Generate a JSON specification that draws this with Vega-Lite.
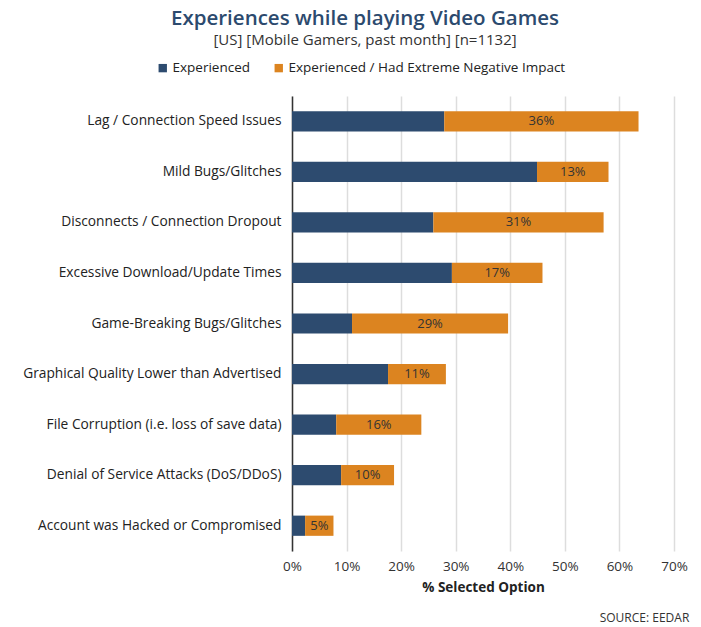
{
  "$schema": "https://vega.github.io/schema/vega-lite/v6.json",
  "background": "white",
  "padding": {"left": 22, "top": 8, "right": 10, "bottom": 2},
  "title": {"text": "SOURCE: EEDAR", "orient": "bottom", "anchor": "end", "fontSize": 12, "fontWeight": "normal", "color": "#333333", "font": "Open Sans", "offset": 19, "dx": 2},
  "config": {"view": {"stroke": null}, "font": "Open Sans"},
  "datasets": {
    "rows": [
      {"category": "Lag / Connection Speed Issues", "series": "Experienced", "value": 0.279},
      {"category": "Lag / Connection Speed Issues", "series": "Experienced / Had Extreme Negative Impact", "value": 0.356},
      {"category": "Mild Bugs/Glitches", "series": "Experienced", "value": 0.449},
      {"category": "Mild Bugs/Glitches", "series": "Experienced / Had Extreme Negative Impact", "value": 0.131},
      {"category": "Disconnects / Connection Dropout", "series": "Experienced", "value": 0.259},
      {"category": "Disconnects / Connection Dropout", "series": "Experienced / Had Extreme Negative Impact", "value": 0.312},
      {"category": "Excessive Download/Update Times", "series": "Experienced", "value": 0.293},
      {"category": "Excessive Download/Update Times", "series": "Experienced / Had Extreme Negative Impact", "value": 0.166},
      {"category": "Game-Breaking Bugs/Glitches", "series": "Experienced", "value": 0.110},
      {"category": "Game-Breaking Bugs/Glitches", "series": "Experienced / Had Extreme Negative Impact", "value": 0.286},
      {"category": "Graphical Quality Lower than Advertised", "series": "Experienced", "value": 0.176},
      {"category": "Graphical Quality Lower than Advertised", "series": "Experienced / Had Extreme Negative Impact", "value": 0.106},
      {"category": "File Corruption (i.e. loss of save data)", "series": "Experienced", "value": 0.081},
      {"category": "File Corruption (i.e. loss of save data)", "series": "Experienced / Had Extreme Negative Impact", "value": 0.156},
      {"category": "Denial of Service Attacks (DoS/DDoS)", "series": "Experienced", "value": 0.090},
      {"category": "Denial of Service Attacks (DoS/DDoS)", "series": "Experienced / Had Extreme Negative Impact", "value": 0.097},
      {"category": "Account was Hacked or Compromised", "series": "Experienced", "value": 0.024},
      {"category": "Account was Hacked or Compromised", "series": "Experienced / Had Extreme Negative Impact", "value": 0.052}
    ]
  },
  "vconcat": [
    {
      "title": {
        "text": "Experiences while playing Video Games",
        "subtitle": "[US] [Mobile Gamers, past month] [n=1132]",
        "anchor": "middle",
        "frame": "bounds",
        "dx": 10,
        "fontSize": 20.5,
        "fontWeight": 600,
        "color": "#2c4a6e",
        "subtitleFontSize": 15,
        "subtitleColor": "#333333",
        "subtitlePadding": 4,
        "offset": 48
      },
      "width": 382,
      "height": 455,
      "data": {"name": "rows"},
      "transform": [
        {"stack": "value", "groupby": ["category"], "sort": [{"field": "series"}], "as": ["v0", "v1"]},
        {"calculate": "(datum.v0 + datum.v1) / 2", "as": "mid"}
      ],
      "encoding": {
        "y": {
          "field": "category",
          "type": "nominal",
          "sort": null,
          "scale": {"paddingInner": 0.6, "paddingOuter": 0.3},
          "axis": {"title": null, "ticks": false, "labelFontSize": 13.75, "labelColor": "#222222", "labelPadding": 11, "labelLimit": 400, "domainColor": "#333333", "domainWidth": 1.5, "grid": false}
        }
      },
      "layer": [
        {
          "mark": {"type": "bar"},
          "encoding": {
            "x": {
              "field": "v0",
              "type": "quantitative",
              "scale": {"domain": [0, 0.7], "nice": false},
              "axis": {"format": ".0%", "values": [0, 0.1, 0.2, 0.3, 0.4, 0.5, 0.6, 0.7], "labelOverlap": false, "labelFlush": false, "title": "% Selected Option", "titleFontSize": 13.5, "titleFontWeight": "bold", "titleColor": "#222222", "titlePadding": 8, "labelFontSize": 13.5, "labelColor": "#333333", "labelPadding": 8, "ticks": false, "domain": false, "gridColor": "#dddddd", "gridWidth": 1.5}
            },
            "x2": {"field": "v1"},
            "color": {
              "field": "series",
              "type": "nominal",
              "scale": {"domain": ["Experienced", "Experienced / Had Extreme Negative Impact"], "range": ["#2d4b6f", "#dc8420"]},
              "legend": {"title": null, "orient": "none", "direction": "horizontal", "legendX": -136, "legendY": -35, "symbolType": "square", "symbolSize": 70, "labelFontSize": 13.5, "labelColor": "#222222", "labelLimit": 400, "columnPadding": 22, "symbolOffset": 0, "labelOffset": 3}
            }
          }
        },
        {
          "transform": [{"filter": "datum.series === 'Experienced / Had Extreme Negative Impact'"}],
          "mark": {"type": "text", "fontSize": 13, "color": "#333333"},
          "encoding": {
            "x": {"field": "mid", "type": "quantitative", "axis": {"format": ".0%", "values": [0, 0.1, 0.2, 0.3, 0.4, 0.5, 0.6, 0.7], "labelOverlap": false, "labelFlush": false, "title": "% Selected Option", "titleFontSize": 13.5, "titleFontWeight": "bold", "titleColor": "#222222", "titlePadding": 8, "labelFontSize": 13.5, "labelColor": "#333333", "labelPadding": 8, "ticks": false, "domain": false, "gridColor": "#dddddd", "gridWidth": 1.5}},
            "text": {"field": "value", "type": "quantitative", "format": ".0%"}
          }
        }
      ]
    }
  ]
}
